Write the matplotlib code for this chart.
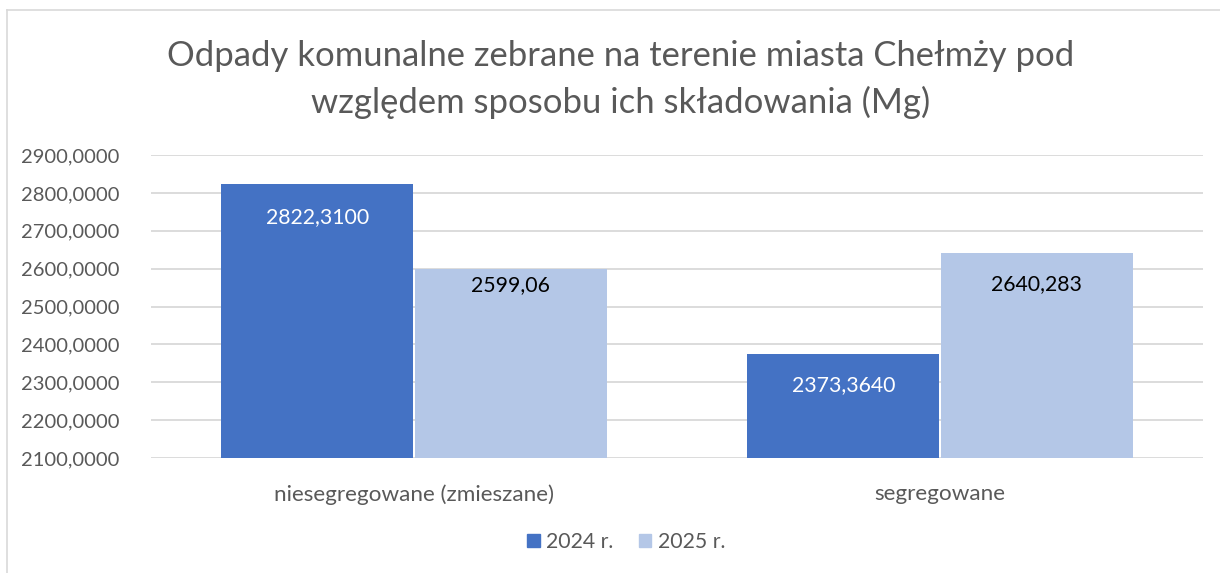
import matplotlib
matplotlib.use("Agg")
import matplotlib.pyplot as plt
import numpy as np
from matplotlib.patches import Rectangle
from matplotlib.lines import Line2D

categories = ["niesegregowane (zmieszane)", "segregowane"]
series_names = ["2024 r.", "2025 r."]
values_2024 = [2822.31, 2373.364]
values_2025 = [2599.06, 2640.283]
labels_2024 = ["2822,3100", "2373,3640"]
labels_2025 = ["2599,06", "2640,283"]
yticks = [2100, 2200, 2300, 2400, 2500, 2600, 2700, 2800, 2900]
ytick_labels = ["2100,0000", "2200,0000", "2300,0000", "2400,0000", "2500,0000",
                "2600,0000", "2700,0000", "2800,0000", "2900,0000"]

FONT = ["Lato", "DejaVu Sans"]
plt.rcParams['font.family'] = FONT
GRAY = "#595959"
C1 = "#4472C4"
C2 = "#B4C7E7"

W, H = 1220, 573
fig = plt.figure(figsize=(W / 100, H / 100), dpi=100)

# chart border (top and left visible)
fig.add_artist(Line2D([7 / W, 1.0], [1 - 10 / H, 1 - 10 / H], color="#d9d9d9", lw=1.2))
fig.add_artist(Line2D([7 / W, 7 / W], [0, 1 - 10 / H], color="#d9d9d9", lw=1.2))

x0, x1 = 151, 1203
ytop, ybot = 155, 458
ax = fig.add_axes([x0 / W, 1 - ybot / H, (x1 - x0) / W, (ybot - ytop) / H])

x = np.arange(len(categories))
bw = 192 / 526
b1 = ax.bar(x - bw / 2 - 0.002, values_2024, bw, color=C1, zorder=3)
b2 = ax.bar(x + bw / 2 + 0.002, values_2025, bw, color=C2, zorder=3)

ax.set_xlim(-0.5, 1.5)
ax.set_ylim(2100, 2900)
ax.set_yticks(yticks)
ax.set_yticklabels(ytick_labels)
ax.set_xticks(x)
ax.set_xticklabels(categories)
ax.grid(axis="y", color="#d9d9d9", lw=1.3, zorder=0)
for s in ax.spines.values():
    s.set_visible(False)
ax.tick_params(axis="both", length=0, labelcolor=GRAY)
ax.tick_params(axis="y", pad=23, labelsize=14.5)
ax.tick_params(axis="x", pad=19, labelsize=16.2)

off_2024 = [33, 31]
off_2025 = [16, 31]
for i in range(len(categories)):
    ax.annotate(labels_2024[i], (x[i] - bw / 2, values_2024[i]), xytext=(0, -off_2024[i]),
                textcoords="offset pixels", ha="center", va="center", color="white", fontsize=15.3)
    ax.annotate(labels_2025[i], (x[i] + bw / 2, values_2025[i]), xytext=(0, -off_2025[i]),
                textcoords="offset pixels", ha="center", va="center", color="black", fontsize=15.3)

fig.text(621 / W, 1 - 56 / H, "Odpady komunalne zebrane na terenie miasta Chełmży pod",
         ha="center", va="center", fontsize=24.9, color=GRAY)
fig.text(621 / W, 1 - 102 / H, "względem sposobu ich składowania (Mg)",
         ha="center", va="center", fontsize=24.9, color=GRAY)

handles = [Rectangle((0, 0), 1, 1, color=C1), Rectangle((0, 0), 1, 1, color=C2)]
fig.legend(handles, series_names, loc="center", bbox_to_anchor=(626 / W, 1 - 542 / H),
           ncol=2, frameon=False, fontsize=15.3, labelcolor=GRAY,
           handlelength=0.6, handleheight=0.6, handletextpad=0.3, columnspacing=1.2)

fig.savefig("out.png", dpi=100)
